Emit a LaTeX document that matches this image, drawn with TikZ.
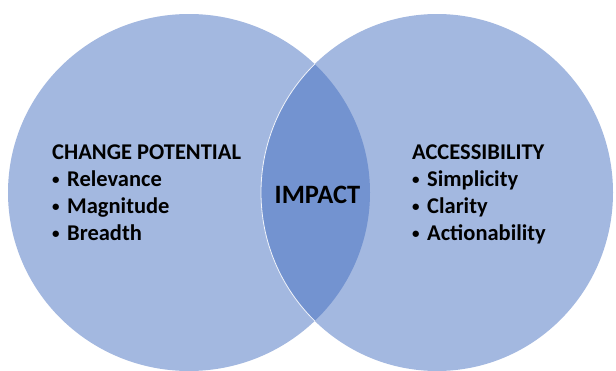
\documentclass[tikz,border=0pt]{standalone}
\usepackage{fontspec}
\setmainfont{Carlito}
\usepackage{xcolor}
\usetikzlibrary{matrix}

\definecolor{circblue}{HTML}{A3B8E0}
\definecolor{lensblue}{HTML}{7393D0}

\newcommand{\bul}{\makebox[15pt][l]{\raisebox{1.5pt}{\fontsize{15}{15}\selectfont\textbullet}}}

\begin{document}
\begin{tikzpicture}[x=1pt, y=-1pt,
        blob/.style={fill=circblue},
        lbl/.style={matrix of nodes, inner sep=0pt, row sep=7pt,
            nodes={anchor=west, inner sep=0pt, text height=15pt, text depth=5pt,
                font=\fontsize{22.5}{26}\selectfont\bfseries}}]
    \clip (0,0) rectangle (616,370);
    \fill[white] (0,0) rectangle (616,370);
    % the two sets
    \fill[blob] (189,192.5) ellipse [x radius=181, y radius=178.5];
    \fill[blob] (437,192.5) ellipse [x radius=176, y radius=178.5];
    % overlap
    \begin{scope}
        \clip (189,192.5) ellipse [x radius=181, y radius=178.5];
        \fill[lensblue] (437,192.5) ellipse [x radius=176, y radius=178.5];
        \draw[white!85!circblue, line width=0.8pt] (437,192.5) ellipse [x radius=176, y radius=178.5];
    \end{scope}
    \matrix (chg) [lbl, anchor=north west] at (52,144)
        {
            CHANGE POTENTIAL \\
            \bul Relevance \\
            \bul Magnitude \\
            \bul Breadth \\
        };
    \matrix (acc) [lbl, anchor=north west] at (412,144)
        {
            ACCESSIBILITY \\
            \bul Simplicity \\
            \bul Clarity \\
            \bul Actionability \\
        };
    \node (impact) [anchor=base, inner sep=0pt, font=\fontsize{26.5}{30}\selectfont\bfseries] at (317.5,203) {IMPACT};
\end{tikzpicture}
\end{document}
